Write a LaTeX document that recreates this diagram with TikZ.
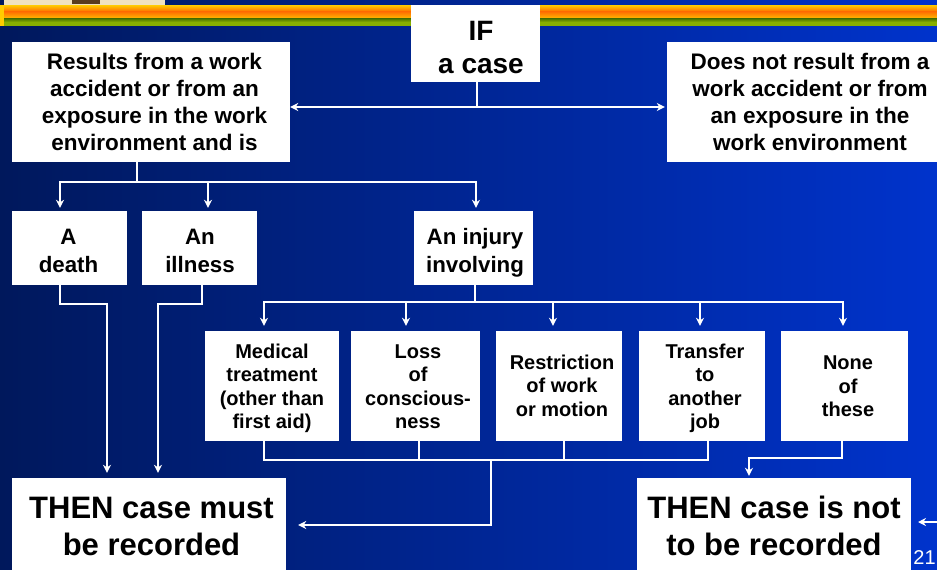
\documentclass[tikz,border=0pt]{standalone}
\usepackage{fontspec}
\setmainfont{Liberation Sans}
\usetikzlibrary{arrows.meta}
\definecolor{bgL}{RGB}{0,24,92}
\definecolor{bgR}{RGB}{0,51,204}
\definecolor{bandY}{RGB}{255,204,0}
\definecolor{bandO}{RGB}{255,110,0}
\definecolor{bandM}{RGB}{255,175,0}
\definecolor{bandD}{RGB}{70,110,0}
\definecolor{bandG}{RGB}{135,175,0}
\definecolor{imgA}{RGB}{240,225,190}
\definecolor{imgB}{RGB}{90,60,30}
% #1 = twice the sideways shift, #2 = the downward shift
\newcommand\boxlines[3]{\hbox{\kern#1\vbox{\vskip#2\hbox{\begin{tabular}{@{}c@{}}#3\end{tabular}}\vskip-#2}}}
\tikzset{
 x=1pt,y=-1pt,
 tbox/.style={fill=white,draw=none,inner sep=0pt,text=black,font=\bfseries\fontsize{22.5}{27}\selectfont},
 sbox/.style={tbox,font=\bfseries\fontsize{22.3}{28}\selectfont},
 mbox/.style={tbox,font=\bfseries\fontsize{20}{23.5}\selectfont},
 bbox/.style={tbox,font=\bfseries\fontsize{31}{37}\selectfont},
 wire/.style={draw=white,line width=2pt},
 arr/.style={wire,-{Stealth[length=8pt,width=8pt]}},
}
\begin{document}
\begin{tikzpicture}
\useasboundingbox (0,0) rectangle (937,570);
\shade[left color=bgL,right color=bgR] (0,0) rectangle (937,570);
% top bands
\fill[imgA] (4,0) rectangle (165,5);
\fill[imgB] (72,0) rectangle (100,4);
\shade[top color=bandY,bottom color=bandO] (0,5) rectangle (937,11.5);
\shade[top color=bandO,bottom color=bandM] (0,11.5) rectangle (937,17.5);
\fill[black!80!bandD] (0,17.5) rectangle (937,18.3);
\shade[top color=bandD,bottom color=bandG] (0,18.3) rectangle (937,22);
\fill[bandG] (0,22) rectangle (937,26);
\fill[bandY] (0,5) rectangle (4,26);
% boxes
\node[tbox,minimum width=129pt,minimum height=77pt,font=\bfseries\fontsize{28}{33}\selectfont] (ifcase) at (475.5,43.5) {\boxlines{11pt}{7pt}{IF\\a case}};
\node[tbox,minimum width=278pt,minimum height=120pt] (yes) at (151,102) {\boxlines{7pt}{3pt}{Results from a work\\accident or from an\\exposure in the work\\environment and is}};
\node[tbox,minimum width=270pt,minimum height=120pt] (no) at (802,102) {\boxlines{16pt}{3pt}{Does not result from a\\work accident or from\\an exposure in the\\work environment}};
\node[sbox,minimum width=115pt,minimum height=74pt] (death) at (69.5,248) {\boxlines{-2pt}{5pt}{A\\death}};
\node[sbox,minimum width=115pt,minimum height=74pt] (illness) at (199.5,248) {\boxlines{1pt}{5pt}{An\\illness}};
\node[sbox,minimum width=119pt,minimum height=74pt] (injury) at (473.5,248) {\boxlines{3pt}{5pt}{An injury\\involving}};
\node[mbox,minimum width=134pt,minimum height=110pt] (medical) at (272,386) {\boxlines{0pt}{3pt}{Medical\\treatment\\(other than\\first aid)}};
\node[mbox,minimum width=129pt,minimum height=110pt] (loss) at (415.5,386) {\boxlines{5pt}{3pt}{Loss\\of\\conscious-\\ness}};
\node[mbox,minimum width=126pt,minimum height=110pt] (restrict) at (559,386) {\boxlines{6pt}{2pt}{Restriction\\of work\\or motion}};
\node[mbox,minimum width=126pt,minimum height=110pt] (transfer) at (702,386) {\boxlines{6pt}{3pt}{Transfer\\to\\another\\job}};
\node[mbox,minimum width=127pt,minimum height=110pt] (none) at (844.5,386) {\boxlines{7pt}{2.5pt}{None\\of\\these}};
\node[bbox,minimum width=274pt,minimum height=92pt] (must) at (149,524) {\boxlines{5pt}{6pt}{THEN case must\\be recorded}};
\node[bbox,minimum width=274pt,minimum height=92pt] (not) at (774,524) {\boxlines{0pt}{6pt}{THEN case is not\\to be recorded}};
\node[text=white,inner sep=0pt,font=\fontsize{20}{24}\selectfont] (page) at (924.5,558) {21};
% junctions
\coordinate (c1) at (477,107);
\coordinate (c2) at (137,182);
\coordinate (c3) at (475,302);
\coordinate (c4) at (491,460);
\coordinate (c5) at (937,522);
% IF
\draw[wire] (ifcase.south -| c1) -- (c1);
\draw[arr] (c1) -- (yes.east |- c1);
\draw[arr] (c1) -- ([xshift=-2pt]no.west |- c1);
% results
\draw[wire] (yes.south -| c2) -- (c2);
\draw[arr] (c2) -| ([xshift=-9.5pt,yshift=3pt]death.north);
\draw[arr] (c2) -| ([xshift=8.5pt,yshift=3pt]illness.north);
\draw[arr] (c2) -| ([xshift=2.5pt,yshift=3pt]injury.north);
% direct
\draw[arr] ([xshift=-9.5pt]death.south) |- (85,304) -| ([xshift=-42pt,yshift=5pt]must.north);
\draw[arr] ([xshift=2.5pt]illness.south) |- (180,304) -| ([xshift=9pt,yshift=5pt]must.north);
% injury bus
\draw[wire] (injury.south -| c3) -- (c3);
\draw[arr] (c3) -| ([xshift=-8pt,yshift=5pt]medical.north);
\draw[arr] (c3) -| ([xshift=-9.5pt,yshift=5pt]loss.north);
\draw[arr] (c3) -| ([xshift=-6pt,yshift=5pt]restrict.north);
\draw[arr] (c3) -| ([xshift=-2pt,yshift=5pt]transfer.north);
\draw[arr] (c3) -| ([xshift=-1.5pt,yshift=5pt]none.north);
% collect
\draw[wire] ([xshift=-8pt]medical.south) |- (c4);
\draw[wire] ([xshift=3.5pt]loss.south) |- (c4);
\draw[wire] ([xshift=5pt]restrict.south) |- (c4);
\draw[wire] ([xshift=6pt]transfer.south) |- (c4);
\draw[arr] (c4) |- ([xshift=12pt]must.east |- 0,525);
% none
\draw[arr] ([xshift=-2.5pt]none.south) |- (795,458) -| ([xshift=-25pt,yshift=2pt]not.north);
% stray arrow
\draw[arr] (c5) -- (918,522);
\end{tikzpicture}
\end{document}
